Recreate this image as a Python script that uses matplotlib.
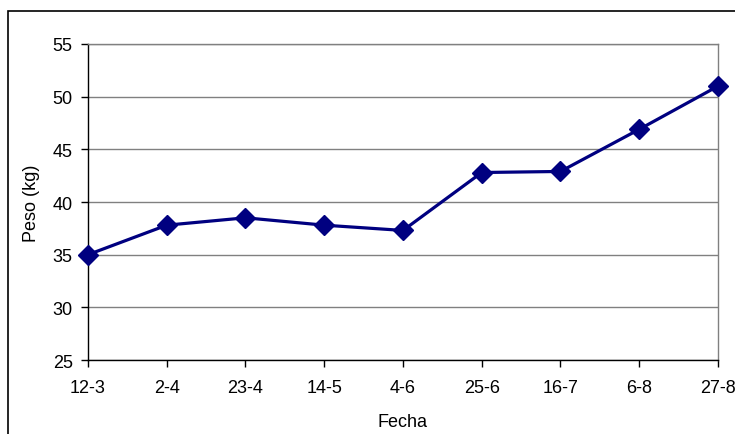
import matplotlib
matplotlib.use("Agg")
import matplotlib.pyplot as plt
from matplotlib.patches import Rectangle

plt.rcParams['font.family'] = ['Liberation Sans', 'DejaVu Sans']

fechas = ["12-3", "2-4", "23-4", "14-5", "4-6", "25-6", "16-7", "6-8", "27-8"]
peso = [35.0, 37.8, 38.5, 37.8, 37.3, 42.8, 42.9, 46.9, 51.0]
y_ticks = [25, 30, 35, 40, 45, 50, 55]

fig = plt.figure(figsize=(7.35, 4.35), dpi=100)
fig.patch.set_facecolor("white")

# outer chart frame (open to the right and bottom edges)
frame = Rectangle((8 / 735, -0.05), 1.1, 1 - 12 / 435 + 0.05,
                  transform=fig.transFigure, fill=False,
                  edgecolor="black", linewidth=1.2, clip_on=False)
fig.add_artist(frame)

ax = fig.add_axes([88 / 735, 1 - 361 / 435, (718 - 88) / 735, (361 - 45) / 435])
x = list(range(len(fechas)))
ax.plot(x, peso, color="#000080", linewidth=2.3, marker="D",
        markersize=10.5, markerfacecolor="#000080", markeredgecolor="#000080",
        zorder=5, clip_on=False)

ax.set_xlim(0, len(fechas) - 1)
ax.set_ylim(25, 55)
ax.set_xticks(x)
ax.set_xticklabels(fechas)
ax.set_yticks(y_ticks)

ax.yaxis.grid(True, color="#808080", linewidth=1.0)
ax.set_axisbelow(True)

for side in ("top", "right"):
    ax.spines[side].set_color("#808080")
    ax.spines[side].set_linewidth(1.0)
for side in ("left", "bottom"):
    ax.spines[side].set_color("black")
    ax.spines[side].set_linewidth(1.0)

ax.tick_params(axis="both", direction="out", length=5, width=1.0,
               labelsize=13, colors="black")
ax.tick_params(axis="x", pad=9)
ax.tick_params(axis="y", pad=6)

ax.set_xlabel("Fecha", fontsize=13, labelpad=12)
ax.set_ylabel("Peso (kg)", fontsize=13, labelpad=9)

fig.savefig("out.png", dpi=100)
